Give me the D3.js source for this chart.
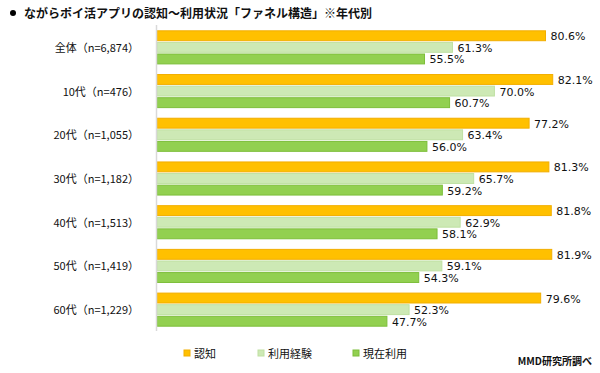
<!DOCTYPE html>
<html>
<head>
<meta charset="utf-8">
<script src="https://cdn.jsdelivr.net/npm/d3@7"></script>
<style>
  body { margin: 0; background: #fff; }
  svg { display: block; font-family: "Noto Sans CJK JP", "Noto Sans", sans-serif; }
</style>
</head>
<body>
<svg width="600" height="373"></svg>
<script>
const categories = ["全体（n=6,874）", "10代（n=476）", "20代（n=1,055）", "30代（n=1,182）", "40代（n=1,513）", "50代（n=1,419）", "60代（n=1,229）"];
const seriesNames = ["認知", "利用経験", "現在利用"];
const ninchi = [80.6, 82.1, 77.2, 81.3, 81.8, 81.9, 79.6];
const keiken = [61.3, 70.0, 63.4, 65.7, 62.9, 59.1, 52.3];
const genzai = [55.5, 60.7, 56.0, 59.2, 58.1, 54.3, 47.7];

const fills = ["#FFC000", "#CDE9B5", "#92D050"];
const strokes = ["#F2AE00", "#BFE0A2", "#7DBE3A"];
const series = [ninchi, keiken, genzai];

const svg = d3.select("svg");

// title
svg.append("circle").attr("cx", 13).attr("cy", 13).attr("r", 3).style("fill", "#000");
svg.append("text").text("ながらポイ活アプリの認知～利用状況「ファネル構造」※年代別")
  .attr("x", 24).attr("y", 17.5)
  .style("font-size", "12px").style("font-weight", "bold").style("fill", "#111");

const x = d3.scaleLinear().domain([0, 100]).range([157, 639]);
const y = d3.scaleBand().domain(categories).range([25.5, 331.5]).paddingInner(0.22).paddingOuter(0.11);
const sub = d3.scaleBand().domain(d3.range(3)).range([0, y.bandwidth()]).paddingInner(0.06);

const groups = svg.selectAll("g.grp")
  .data(categories)
  .enter()
  .append("g")
  .attr("class", "grp")
  .attr("transform", d => `translate(0,${y(d)})`);

groups.each(function (c, i) {
  const g = d3.select(this);
  series.forEach((s, k) => {
    g.append("rect")
      .attr("x", x(0))
      .attr("y", sub(k) + 0.5)
      .attr("width", x(s[i]) - x(0))
      .attr("height", sub.bandwidth() - 1)
      .style("fill", fills[k])
      .style("stroke", strokes[k])
      .style("stroke-width", 1);
    g.append("text")
      .text(s[i].toFixed(1) + "%")
      .attr("x", x(s[i]) + 5)
      .attr("y", sub(k) + sub.bandwidth() / 2 + 4.5)
      .style("font-family", "'DejaVu Sans', sans-serif")
      .style("font-size", "11px")
      .style("fill", "#111");
  });
  g.append("text")
    .text(c)
    .attr("x", 139)
    .attr("y", sub(1) + sub.bandwidth() / 2 + 4.5)
    .attr("text-anchor", "end")
    .style("font-size", "11px")
    .style("fill", "#111");
});

// axis line
svg.append("line")
  .attr("x1", 156.5).attr("x2", 156.5)
  .attr("y1", 25).attr("y2", 331)
  .style("stroke", "#D9D9D9").style("stroke-width", 1.5);

// legend
const legendX = [184, 258, 353];
seriesNames.forEach((n, k) => {
  svg.append("rect")
    .attr("x", legendX[k]).attr("y", 350)
    .attr("width", 6).attr("height", 6)
    .style("fill", fills[k]).style("stroke", strokes[k]);
  svg.append("text").text(n)
    .attr("x", legendX[k] + 10).attr("y", 357.5)
    .style("font-size", "11px").style("fill", "#111");
});

svg.append("text").text("MMD研究所調べ")
  .attr("x", 592).attr("y", 365)
  .attr("text-anchor", "end")
  .style("font-size", "10px").style("font-weight", "bold").style("fill", "#111");
</script>
</body>
</html>
